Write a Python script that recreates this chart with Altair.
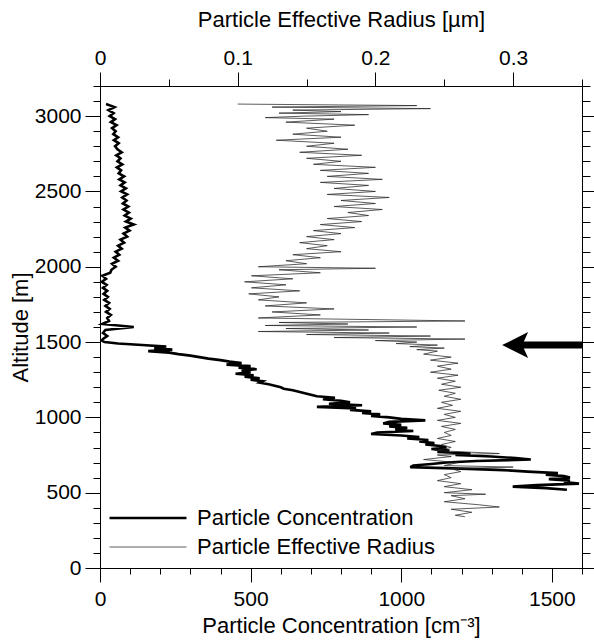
import altair as alt
import pandas as pd

FONT = "Liberation Sans"

# ---------------- data ----------------
conc_alt = [
    3080, 3060, 3040, 3020, 3000, 2980, 2960, 2940, 2920, 2900,
    2880, 2860, 2840, 2820, 2800, 2780, 2760, 2740, 2720, 2700,
    2680, 2660, 2640, 2620, 2600, 2580, 2560, 2540, 2520, 2500,
    2480, 2460, 2440, 2420, 2400, 2380, 2360, 2340, 2320, 2300,
    2280, 2260, 2240, 2220, 2200, 2180, 2160, 2140, 2120, 2100,
    2080, 2060, 2040, 2020, 2000, 1980, 1960, 1940, 1920, 1900,
    1880, 1860, 1840, 1820, 1800, 1780, 1760, 1740, 1720, 1700,
    1680, 1660, 1640, 1620, 1600, 1580, 1560, 1540,
    1520, 1510, 1500, 1490, 1480, 1470, 1460, 1450, 1440, 1430,
    1420, 1410, 1400, 1390, 1380, 1370, 1360, 1350, 1340, 1330,
    1320, 1310, 1300, 1290, 1280, 1270, 1260, 1250, 1240, 1230,
    1220, 1210, 1200, 1190, 1180, 1170, 1160, 1150, 1140, 1130,
    1120, 1110, 1100, 1090, 1080, 1070, 1060, 1050, 1040, 1030,
    1020, 1010, 1000, 990, 980, 970, 960, 950, 940, 930,
    920, 910, 900, 890, 880, 870, 860, 850, 840, 830,
    820, 810, 800, 790, 780, 770, 760, 750, 740, 730,
    720, 710, 700, 690, 680, 670, 660, 650, 640, 630,
    620, 610, 600, 590, 580, 570, 560, 550, 540, 530,
    520,
]
conc_val = [
    20, 48, 28, 45, 32, 50, 36, 55, 40, 52,
    44, 60, 46, 62, 50, 58, 72, 54, 68, 58,
    74, 56, 70, 62, 80, 64, 82, 68, 86, 70,
    90, 74, 88, 76, 94, 78, 96, 82, 102, 86,
    112, 84, 98, 78, 90, 68, 80, 60, 72, 52,
    64, 46, 60, 40, 52, 38, 34, 8, 20, 6,
    22, 10, 24, 12, 26, 14, 30, 18, 32, 20,
    36, 24, 30, 8, 112, 18, 10, 24,
    10, 6, 15, 60, 140, 220, 180, 240, 160, 230,
    260, 300, 330, 360, 400, 430, 470, 420, 500, 460,
    520, 470, 500, 450, 510, 480, 530, 500, 540, 530,
    560, 580, 600, 610, 640, 660, 680, 700, 720, 780,
    740, 800, 830, 760, 870, 720, 850, 830, 900, 870,
    930, 900, 960, 1000, 1080, 960, 940, 1000, 960, 1020,
    980, 1040, 920, 900, 1000, 1060, 1020, 1090, 1060, 1110,
    1080, 1130, 1150, 1100, 1160, 1120, 1230, 1180, 1300, 1380,
    1430, 1250, 1150, 1100, 1040, 1030, 1200, 1340, 1420, 1520,
    1480, 1540, 1560, 1490, 1560, 1540, 1590, 1450, 1370, 1480,
    1550,
]

rad_alt = [
    3080, 3070, 3060, 3050, 3040, 3030, 3020, 3010, 3000, 2990,
    2980, 2960, 2940, 2920, 2900, 2880, 2860, 2840, 2820, 2800,
    2780, 2760, 2740, 2720, 2700, 2680, 2660, 2640, 2620, 2600,
    2580, 2560, 2540, 2520, 2500, 2480, 2460, 2440, 2420, 2400,
    2380, 2360, 2340, 2320, 2300, 2280, 2260, 2240, 2220, 2200,
    2180, 2160, 2140, 2120, 2100, 2080, 2060, 2040, 2020, 2000,
    1990, 1980, 1960, 1940, 1920, 1900, 1880, 1860, 1840, 1820,
    1800, 1780, 1760, 1740, 1720, 1700, 1680, 1660, 1640, 1630,
    1620, 1610, 1600, 1590, 1580, 1570, 1560, 1550, 1540, 1530,
    1520, 1510, 1500, 1490, 1480, 1470, 1460, 1450, 1440, 1420,
    1400, 1380, 1360, 1340, 1320, 1300, 1280, 1260, 1240, 1220,
    1200, 1180, 1160, 1140, 1120, 1100, 1080, 1060, 1040, 1020,
    1000, 980, 960, 940, 920, 900, 880, 860, 840, 820,
    800, 780, 760, 750, 740, 720, 700, 680, 670, 660,
    640, 620, 600, 580, 560, 540, 520, 500, 490, 480,
    460, 440, 420, 405, 390, 370, 350, 340,
]
rad_val = [
    0.100, 0.230, 0.125, 0.240, 0.140, 0.175, 0.130, 0.195, 0.148, 0.120,
    0.170, 0.135, 0.185, 0.150, 0.165, 0.140, 0.175, 0.128, 0.170, 0.150,
    0.180, 0.145, 0.190, 0.150, 0.175, 0.155, 0.200, 0.160, 0.195, 0.165,
    0.205, 0.160, 0.195, 0.170, 0.200, 0.165, 0.210, 0.175, 0.200, 0.170,
    0.205, 0.180, 0.195, 0.165, 0.190, 0.160, 0.185, 0.155, 0.175, 0.150,
    0.170, 0.145, 0.165, 0.150, 0.175, 0.140, 0.160, 0.135, 0.150, 0.115,
    0.200, 0.130, 0.160, 0.110, 0.140, 0.105, 0.135, 0.110, 0.145, 0.108,
    0.130, 0.115, 0.150, 0.120, 0.170, 0.125, 0.160, 0.115, 0.265, 0.130,
    0.180, 0.120, 0.230, 0.135, 0.195, 0.115, 0.210, 0.150, 0.240, 0.170,
    0.265, 0.200, 0.230, 0.215, 0.245, 0.225, 0.250, 0.230, 0.245, 0.235,
    0.255, 0.240, 0.260, 0.245, 0.255, 0.240, 0.260, 0.245, 0.258, 0.248,
    0.262, 0.246, 0.258, 0.250, 0.262, 0.248, 0.256, 0.245, 0.262, 0.250,
    0.258, 0.245, 0.262, 0.248, 0.258, 0.250, 0.255, 0.245, 0.258, 0.248,
    0.255, 0.243, 0.290, 0.245, 0.255, 0.235, 0.260, 0.250, 0.300, 0.255,
    0.262, 0.250, 0.255, 0.245, 0.262, 0.250, 0.270, 0.250, 0.280, 0.255,
    0.265, 0.250, 0.275, 0.290, 0.255, 0.270, 0.258, 0.265,
]

# arrow marking the inversion (concentration units / altitude)
arrow_tail = [1600]
arrow_base = [1392]
arrow_head = [1378]
arrow_alt = [1480]

series_names = ["Particle Concentration", "Particle Effective Radius"]

conc_ticks = [0, 100, 200, 300, 400, 500, 600, 700, 800, 900, 1000,
              1100, 1200, 1300, 1400, 1500, 1600]
alt_ticks = [0, 100, 200, 300, 400, 500, 600, 700, 800, 900, 1000, 1100,
             1200, 1300, 1400, 1500, 1600, 1700, 1800, 1900, 2000, 2100,
             2200, 2300, 2400, 2500, 2600, 2700, 2800, 2900, 3000, 3100, 3200]
rad_ticks = [0, 0.05, 0.1, 0.15, 0.2, 0.25, 0.3, 0.35]

# ---------------- frames ----------------
conc_df = pd.DataFrame({"alt": conc_alt, "conc": conc_val,
                        "series": series_names[0]})
rad_df = pd.DataFrame({"alt": rad_alt, "radius": rad_val,
                       "series": series_names[1]})
arrow_df = pd.DataFrame({"tail": arrow_tail, "base": arrow_base,
                         "head": arrow_head, "alt": arrow_alt})

# ---------------- axes ----------------
y_scale = alt.Scale(domain=[0, 3200], nice=False, zero=False)
conc_x = alt.Scale(domain=[0, 1600], nice=False, zero=False)
rad_x = alt.Scale(domain=[0, 0.35], nice=False, zero=False)
major_alt = "datum.value % 500 === 0"
major_rad = "round(datum.value * 100) % 10 === 0"

common_axis = dict(grid=False, domainColor="black", tickColor="black",
                   domainWidth=1, tickWidth=1, labelColor="black",
                   titleColor="black", labelFont=FONT, titleFont=FONT,
                   labelFontSize=21, titleFontSize=22,
                   titleFontWeight="normal", labelOverlap=False,
                   labelFlush=False, labelBound=False)

left_axis = alt.Axis(orient="left", values=alt_ticks, format="d",
                     tickSize={"condition": {"test": major_alt, "value": 15}, "value": 7},
                     labelExpr=f"{major_alt} ? datum.label : ''",
                     labelPadding=4, title="Altitude [m]", titlePadding=2,
                     **common_axis)
right_axis = alt.Axis(orient="right", values=alt_ticks, labels=False,
                      tickSize={"condition": {"test": major_alt, "value": 12}, "value": 8},
                      title=None, **common_axis)
bottom_axis = alt.Axis(orient="bottom", values=conc_ticks, format="d",
                       tickSize={"condition": {"test": major_alt, "value": 14}, "value": 6},
                       labelExpr=f"{major_alt} ? datum.label : ''",
                       labelPadding=6, title="Particle Concentration [cm⁻³]",
                       titlePadding=6, **common_axis)
top_axis = alt.Axis(orient="top", values=rad_ticks, format=".2~f",
                    tickSize={"condition": {"test": major_rad, "value": 14}, "value": 7},
                    labelExpr=f"{major_rad} ? datum.label : ''",
                    labelPadding=4, title="Particle Effective Radius [µm]",
                    titlePadding=16, **common_axis)

# long thin legend stroke: custom path 8 units wide, sqrt(size)/2 px per unit
legend = alt.Legend(title=None, orient="none", legendX=37, legendY=421,
                    symbolType="M-4,0H4", symbolSize=370,
                    labelFont=FONT, labelFontSize=22, labelColor="black",
                    labelLimit=400, labelOffset=38, rowPadding=7, padding=0)
color_enc = alt.Color("series:N", legend=legend,
                      scale=alt.Scale(domain=series_names,
                                      range=["#000000", "#262626"]))
width_enc = alt.StrokeWidth("series:N", legend=legend,
                            scale=alt.Scale(domain=series_names,
                                            range=[2.6, 0.75]))

# ---------------- marks ----------------
conc_line = alt.Chart(conc_df).mark_line(strokeJoin="miter").encode(
    x=alt.X("conc:Q", scale=conc_x, axis=bottom_axis),
    y=alt.Y("alt:Q", scale=y_scale, axis=left_axis),
    color=color_enc,
    strokeWidth=width_enc,
    order=alt.Order("alt:Q"),
)

arrow_shaft = alt.Chart(arrow_df).mark_rule(color="black", strokeWidth=7,
                                            strokeCap="butt").encode(
    x=alt.X("base:Q", scale=conc_x, axis=bottom_axis),
    x2="tail:Q",
    y=alt.Y("alt:Q", scale=y_scale, axis=left_axis),
)
arrow_tip = alt.Chart(arrow_df).mark_point(
    shape="M-1,0L1,-1L0.55,0L1,1Z", filled=True, color="black",
    opacity=1, strokeWidth=0, size=676).encode(
    x=alt.X("head:Q", scale=conc_x, axis=bottom_axis),
    y=alt.Y("alt:Q", scale=y_scale, axis=left_axis),
)

conc_group = alt.layer(conc_line, arrow_shaft, arrow_tip)

rad_line = alt.Chart(rad_df).mark_line().encode(
    x=alt.X("radius:Q", scale=rad_x, axis=top_axis),
    y=alt.Y("alt:Q", scale=y_scale, axis=right_axis),
    color=color_enc,
    strokeWidth=width_enc,
    order=alt.Order("alt:Q"),
)

chart = alt.layer(conc_group, rad_line).resolve_scale(
    x="independent"
).resolve_axis(
    y="independent"
).properties(
    width=482, height=482, autosize="none",
    padding={"left": 100, "top": 86, "right": 12, "bottom": 75},
    background="white",
).configure_view(stroke=None)

chart.save("out.html", embed_options={"renderer": "svg", "actions": False})
